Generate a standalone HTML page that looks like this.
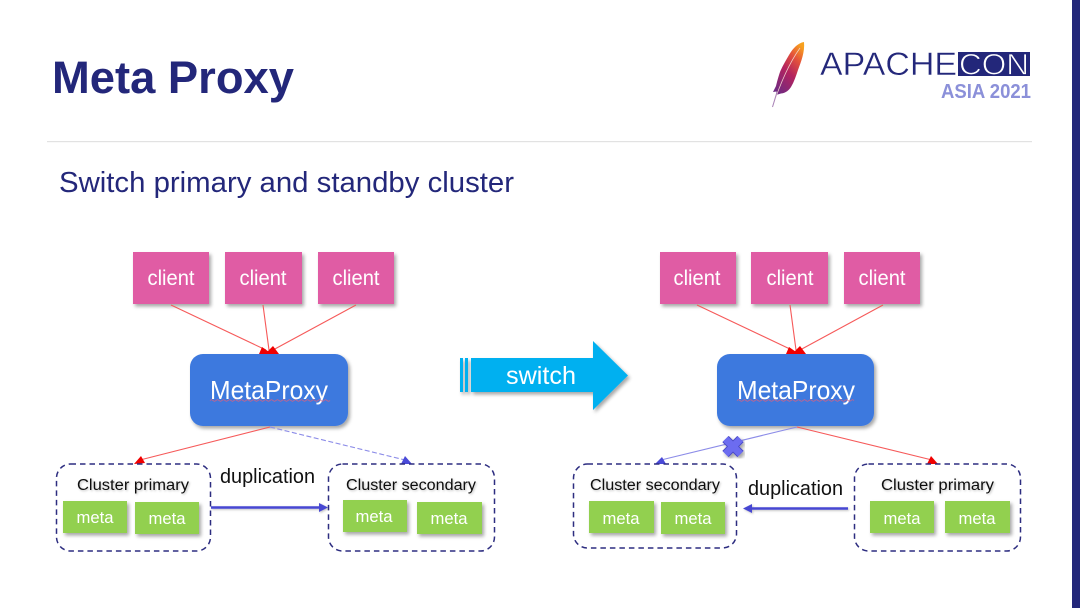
<!DOCTYPE html>
<html><head><meta charset="utf-8"><style>
html,body{margin:0;padding:0;background:#fff;width:1080px;height:608px;overflow:hidden}
svg{display:block}
text{font-family:"Liberation Sans","DejaVu Sans",sans-serif}
</style></head><body>
<svg width="1080" height="608" viewBox="0 0 1080 608" xmlns="http://www.w3.org/2000/svg">
<defs>
<filter id="s" x="-20%" y="-20%" width="150%" height="150%"><feDropShadow dx="2" dy="2.5" stdDeviation="1.8" flood-color="#000" flood-opacity=".35"/></filter>
<filter id="ts" x="-10%" y="-30%" width="120%" height="170%"><feDropShadow dx="1" dy="1" stdDeviation="1" flood-color="#000" flood-opacity=".25"/></filter>
<linearGradient id="f" x1="0.8" y1="0" x2="0.2" y2="1"><stop offset="0" stop-color="#f7a11e"/><stop offset=".25" stop-color="#e5533a"/><stop offset=".55" stop-color="#b3235f"/><stop offset="1" stop-color="#6d2a83"/></linearGradient>
</defs>
<rect x="1072" y="0" width="8" height="608" fill="#23277a"/>
<rect x="47" y="141" width="985" height="1.2" fill="#e2e2e2"/>

<text x="52" y="93" font-size="45" font-weight="700" fill="#23277a" textLength="242" lengthAdjust="spacingAndGlyphs">Meta Proxy</text>
<text x="59" y="192" font-size="29" fill="#23277a" textLength="455" lengthAdjust="spacingAndGlyphs">Switch primary and standby cluster</text>

<!-- logo -->
<path d="M804 42C798 43 793 48 789 55C785 62 782 67 780 72C778 78 777 82 776 86L773 92L776.500 91.500L776 95L781 93.500C786 93 789 90 791 87C794 82 796 76 798 70C801 62 805 52 804 42Z" fill="url(#f)"/>
<path d="M800 48C790 62 780 84 772.500 107" fill="none" stroke="#f3d6cf" stroke-width=".7"/>
<path d="M777 92L772.500 107" fill="none" stroke="#a783b8" stroke-width="1"/>
<text x="820" y="75" font-size="32" fill="#23277a" stroke="#fff" stroke-width=".4" paint-order="fill stroke" textLength="137" lengthAdjust="spacingAndGlyphs">APACHE</text>
<rect x="958" y="52" width="72" height="24" fill="#23277a"/>
<text x="959" y="74.500" font-size="30" fill="#fff" stroke="#23277a" stroke-width=".8" paint-order="fill stroke" textLength="70" lengthAdjust="spacingAndGlyphs">CON</text>
<text x="941" y="98" font-size="20" font-weight="700" fill="#8b90d9" textLength="90" lengthAdjust="spacingAndGlyphs">ASIA 2021</text>

<!-- clients -->
<g fill="#e05ca4" filter="url(#s)">
<rect x="133" y="252" width="76" height="52"/><rect x="225" y="252" width="77" height="52"/><rect x="318" y="252" width="76" height="52"/>
<rect x="660" y="252" width="76" height="52"/><rect x="751" y="252" width="77" height="52"/><rect x="844" y="252" width="76" height="52"/>
</g>
<g font-size="21" fill="#fff" text-anchor="middle">
<text x="171" y="285" textLength="47" lengthAdjust="spacingAndGlyphs">client</text>
<text x="263" y="285" textLength="47" lengthAdjust="spacingAndGlyphs">client</text>
<text x="356" y="285" textLength="47" lengthAdjust="spacingAndGlyphs">client</text>
<text x="697" y="285" textLength="47" lengthAdjust="spacingAndGlyphs">client</text>
<text x="790" y="285" textLength="47" lengthAdjust="spacingAndGlyphs">client</text>
<text x="882" y="285" textLength="47" lengthAdjust="spacingAndGlyphs">client</text>
</g>

<rect x="190" y="354" width="158" height="72" rx="13" fill="#3d79de" filter="url(#s)"/>
<rect x="717" y="354" width="157" height="72" rx="13" fill="#3d79de" filter="url(#s)"/>
<text x="269" y="399" font-size="26" fill="#fff" text-anchor="middle" textLength="118" lengthAdjust="spacingAndGlyphs">MetaProxy</text>
<text x="796" y="399" font-size="26" fill="#fff" text-anchor="middle" textLength="118" lengthAdjust="spacingAndGlyphs">MetaProxy</text>
<path d="M210 400.500q1.500-1.500 3 0t3 0 3 0 3 0 3 0 3 0 3 0 3 0 3 0 3 0 3 0 3 0 3 0 3 0 3 0 3 0 3 0 3 0 3 0 3 0 3 0 3 0 3 0 3 0 3 0 3 0 3 0 3 0 3 0 3 0 3 0 3 0 3 0 3 0 3 0 3 0 3 0 3 0 3 0 3 0" fill="none" stroke="#e0607c" stroke-width=".8"/>
<path d="M737 400.500q1.500-1.500 3 0t3 0 3 0 3 0 3 0 3 0 3 0 3 0 3 0 3 0 3 0 3 0 3 0 3 0 3 0 3 0 3 0 3 0 3 0 3 0 3 0 3 0 3 0 3 0 3 0 3 0 3 0 3 0 3 0 3 0 3 0 3 0 3 0 3 0 3 0 3 0 3 0 3 0 3 0" fill="none" stroke="#e0607c" stroke-width=".8"/>

<!-- client connectors -->
<g stroke="#f65a5a" stroke-width="1.1" fill="none">
<path d="M171 305L266 350M263 305L269 350M356 305L273 350"/>
<path d="M697 305L792 350M790 305L796 350M883 305L800 350"/>
</g>
<g fill="#f00000">
<path d="M259 354L262 347L272 354ZM265 354L273 346L279 354Z"/>
<path d="M786 354L789 347L799 354ZM792 354L800 346L806 354Z"/>
</g>

<!-- proxy to clusters -->
<path d="M270 427L140 460" stroke="#f65a5a" stroke-width="1.1" fill="none"/>
<path d="M134 464L141 456L145 463Z" fill="#f00000"/>
<path d="M270 427L405 460" stroke="#8c8ce8" stroke-width="1.1" stroke-dasharray="5 2.500" fill="none"/>
<path d="M412 464L401 464L405 456Z" fill="#4a4ad8"/>

<path d="M797 427L661 460" stroke="#8c8ce8" stroke-width="1.1" fill="none"/>
<path d="M655 464L662 457L666 464Z" fill="#4a4ad8"/>
<path d="M797 427L932 460" stroke="#f65a5a" stroke-width="1.1" fill="none"/>
<path d="M938 464L927 464L931 456Z" fill="#f00000"/>

<!-- X mark -->
<g filter="url(#s)">
<path d="M725.500 439L740.500 454M740.500 439L725.500 454" stroke="#4a4ac4" stroke-width="9"/>
<path d="M725.500 439L740.500 454M740.500 439L725.500 454" stroke="#6c6cf0" stroke-width="7"/>
</g>

<!-- clusters -->
<g fill="none" stroke="#2d2d80" stroke-width="1.5" stroke-dasharray="5.500 4">
<rect x="56.500" y="464" width="154" height="87" rx="14"/>
<rect x="328.500" y="464" width="166" height="87" rx="14"/>
<rect x="573.500" y="464" width="163" height="84" rx="14"/>
<rect x="854.500" y="464" width="166" height="87" rx="14"/>
</g>
<g font-size="15.500" fill="#111" filter="url(#ts)">
<text x="77" y="490" textLength="112" lengthAdjust="spacingAndGlyphs">Cluster primary</text>
<text x="346" y="490" textLength="130" lengthAdjust="spacingAndGlyphs">Cluster secondary</text>
<text x="590" y="490" textLength="130" lengthAdjust="spacingAndGlyphs">Cluster secondary</text>
<text x="881" y="490" textLength="113" lengthAdjust="spacingAndGlyphs">Cluster primary</text>
</g>
<g fill="#92d050" filter="url(#s)">
<rect x="63" y="501" width="64" height="32"/><rect x="135" y="502" width="64" height="32"/>
<rect x="343" y="500" width="64" height="32"/><rect x="417" y="502" width="65" height="32"/>
<rect x="589" y="501" width="65" height="32"/><rect x="661" y="502" width="64" height="32"/>
<rect x="870" y="501" width="64" height="32"/><rect x="945" y="501" width="65" height="32"/>
</g>
<g font-size="16.500" fill="#fff" text-anchor="middle">
<text x="95" y="523" textLength="37" lengthAdjust="spacingAndGlyphs">meta</text>
<text x="167" y="524" textLength="37" lengthAdjust="spacingAndGlyphs">meta</text>
<text x="374" y="522" textLength="37" lengthAdjust="spacingAndGlyphs">meta</text>
<text x="449" y="524" textLength="37" lengthAdjust="spacingAndGlyphs">meta</text>
<text x="621" y="524" textLength="37" lengthAdjust="spacingAndGlyphs">meta</text>
<text x="693" y="524" textLength="37" lengthAdjust="spacingAndGlyphs">meta</text>
<text x="902" y="524" textLength="37" lengthAdjust="spacingAndGlyphs">meta</text>
<text x="977" y="524" textLength="37" lengthAdjust="spacingAndGlyphs">meta</text>
</g>

<!-- duplication -->
<text x="220" y="483" font-size="20" fill="#111" textLength="95" lengthAdjust="spacingAndGlyphs">duplication</text>
<text x="748" y="495" font-size="20" fill="#111" textLength="95" lengthAdjust="spacingAndGlyphs">duplication</text>
<g filter="url(#ts)">
<path d="M211 507.500H320" stroke="#4646d2" stroke-width="2.500"/>
<path d="M328 507.500L319 503V512Z" fill="#4646d2"/>
<path d="M848 508.500H750" stroke="#4646d2" stroke-width="2.500"/>
<path d="M743 508.500L752 504V513Z" fill="#4646d2"/>
</g>

<!-- switch arrow -->
<g fill="#00b0f0" filter="url(#s)">
<rect x="460" y="358" width="3" height="34"/>
<rect x="465" y="358" width="3" height="34"/>
<path d="M471 358H593V341L628 375.500L593 410V392H471Z"/>
</g>
<text x="541" y="384" font-size="25" fill="#fff" text-anchor="middle" textLength="70" lengthAdjust="spacingAndGlyphs">switch</text>
</svg>
</body></html>
